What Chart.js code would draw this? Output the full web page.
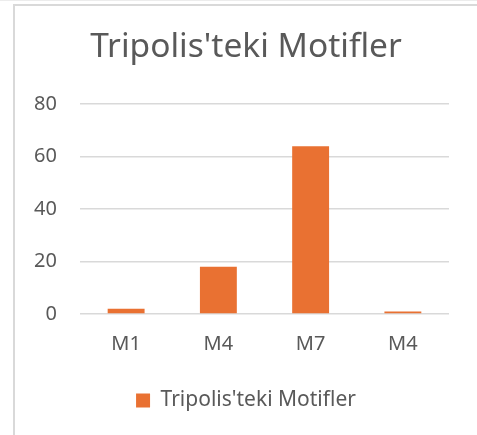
<html>
  <head>
    <style>
      body { margin: 0; background: #fff; }
      #wrap { position: relative; width: 477px; height: 435px; }
      #frame {
        position: absolute; left: 13px; top: 4px; right: 0; bottom: 0;
        border-top: 2px solid #d9d9d9; border-left: 2px solid #d9d9d9;
      }
      #edge { position: absolute; left: 0; top: 0; width: 477px; height: 1px; background: #ececec; }
      canvas { position: absolute; left: 0; top: 0; }
    </style>
  </head>

  <body>
    <div id="wrap">
      <div id="edge"></div>
      <div id="frame"></div>
      <canvas id="myChart" width="477" height="435"></canvas>
    </div>

    <script src="https://cdn.jsdelivr.net/npm/chart.js@4/dist/chart.umd.min.js"></script>
    <script>
      const motifs = ['M1', 'M4', 'M7', 'M4']
      const counts = [2, 18, 64, 1]
      const yTicks = [0, 20, 40, 60, 80]
      const seriesName = "Tripolis'teki Motifler"

      const textColor = '#595959'
      const fontFamily = "'Noto Sans', 'Open Sans', sans-serif"

      let chart = new Chart(document.getElementById('myChart'), {
        type: 'bar',
        data: {
          labels: motifs,
          datasets: [
            {
              label: seriesName,
              data: counts,
              backgroundColor: '#e97132',
              barPercentage: 0.4,
              categoryPercentage: 1,
            },
          ],
        },
        options: {
          responsive: false,
          animation: false,
          layout: { padding: { left: 15, right: 0, top: 0, bottom: 14 } },
          plugins: {
            title: {
              display: true,
              text: seriesName,
              color: textColor,
              font: { family: fontFamily, size: 33.5, weight: 'normal' },
              padding: { top: 27, bottom: 37 },
            },
            legend: {
              position: 'bottom',
              labels: {
                color: textColor,
                font: { family: fontFamily, size: 21 },
                boxWidth: 14,
                boxHeight: 14,
                padding: 16,
              },
            },
            tooltip: { enabled: false },
          },
          scales: {
            x: {
              grid: { display: false, drawTicks: false },
              border: { display: false },
              ticks: { color: textColor, font: { family: fontFamily, size: 20 }, padding: 18 },
            },
            y: {
              min: yTicks[0],
              max: yTicks[yTicks.length - 1],
              afterBuildTicks: (axis) => {
                axis.ticks = yTicks.map((v) => ({ value: v }))
              },
              afterFit: (axis) => {
                axis.width = 65
              },
              grid: { color: '#d9d9d9', lineWidth: 1.5, drawTicks: false },
              border: { display: false },
              ticks: { color: textColor, font: { family: fontFamily, size: 20 }, padding: 23 },
            },
            // empty strip on the right so the plot ends short of the frame edge
            gap: {
              type: 'linear',
              position: 'right',
              grid: { display: false, drawTicks: false },
              border: { display: false },
              ticks: { display: false },
              afterFit: (axis) => {
                axis.width = 28
              },
            },
          },
        },
      })
    </script>
  </body>
</html>
